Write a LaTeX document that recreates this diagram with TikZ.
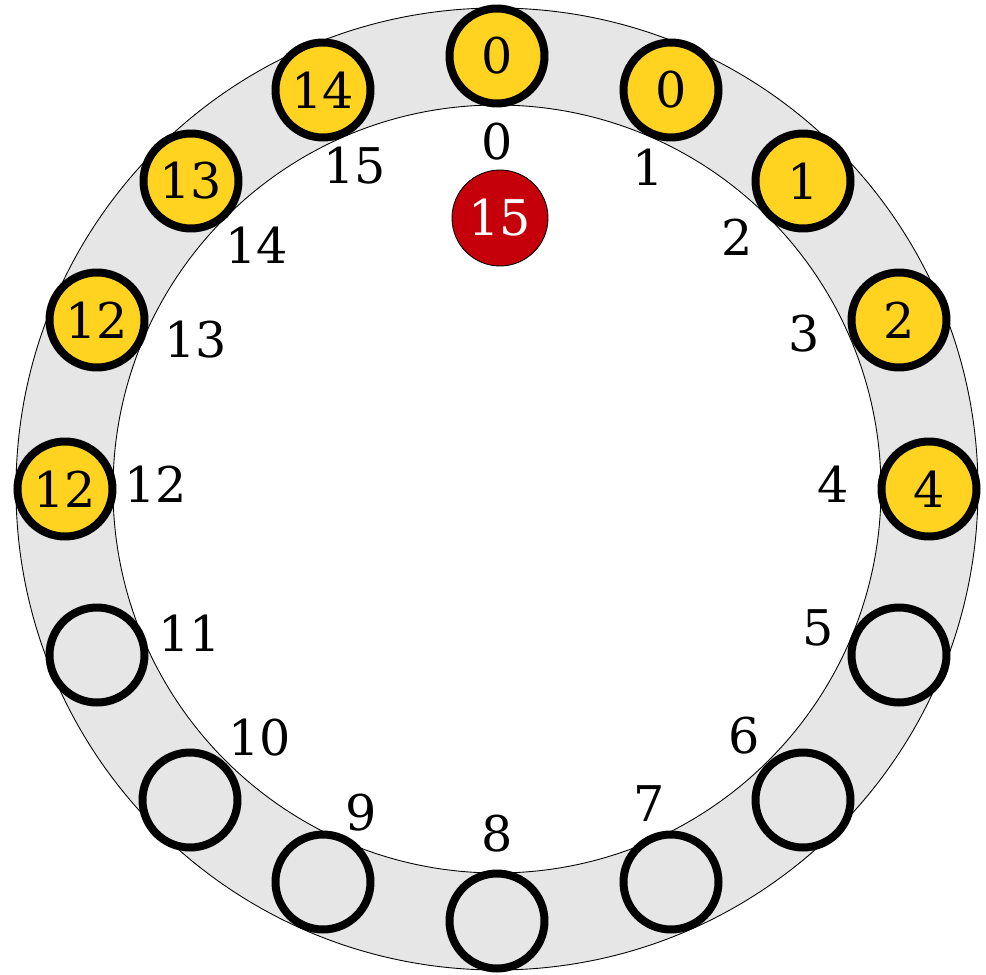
\documentclass[tikz,border=0pt]{standalone}
\usepackage{fontspec}
\setmainfont{DejaVu Serif}
\usepackage{tikz}
\definecolor{ringgray}{HTML}{E6E6E6}
\definecolor{slotyellow}{HTML}{FFD320}
\definecolor{headred}{HTML}{C5000B}

\begin{document}
\begin{tikzpicture}[
x=0.02cm, y=0.02cm,
slot/.style={circle, draw=black, line width=0.16cm, minimum size=1.9cm, inner sep=0pt, fill=ringgray, font=\fontsize{28}{34}\selectfont},
full/.style={slot, fill=slotyellow},
head/.style={circle, draw=black, line width=0.5pt, minimum size=1.92cm, inner sep=0pt, fill=headred, text=white, font=\fontsize{28}{34}\selectfont},
num/.style={inner sep=0pt, font=\fontsize{28}{34}\selectfont}
]
\useasboundingbox (-497,-485) rectangle (489,489);
% ring
\fill[ringgray, even odd rule] (0,0) circle (481) (0,0) circle (384);
\draw[line width=0.5pt] (0,0) circle (481);
\draw[line width=0.5pt] (0,0) circle (384);
% position numbers
\foreach \i/\x/\y in {0/0/347, 1/151/322, 2/240/252, 3/307/155, 4/336/5, 5/321/-139,
  6/247/-247, 7/152/-315, 8/0/-345, 9/-136/-324, 10/-237/-249, 11/-307/-144,
  12/-341/5, 13/-301/149, 14/-240/244, 15/-142/323}
  \node[num] (lbl\i) at (\x,\y) {\i};
% occupied slots
\foreach \i/\x/\y/\v in {0/0/433/0, 1/174/399/0, 2/306/308/1, 3/402/169/2, 4/432/0/4,
  12/-432/0/12, 13/-400/169/12, 14/-306/308/13, 15/-174/399/14}
  \node[full] (slot\i) at (\x,\y) {\v};
% empty slots
\foreach \i/\x/\y in {5/402/-166, 6/306/-311, 7/174/-393, 8/0/-432,
  9/-174/-393, 10/-307/-311, 11/-400/-166}
  \node[slot] (slot\i) at (\x,\y) {};
\node[head] (head) at (3,271) {15};
\end{tikzpicture}
\end{document}
